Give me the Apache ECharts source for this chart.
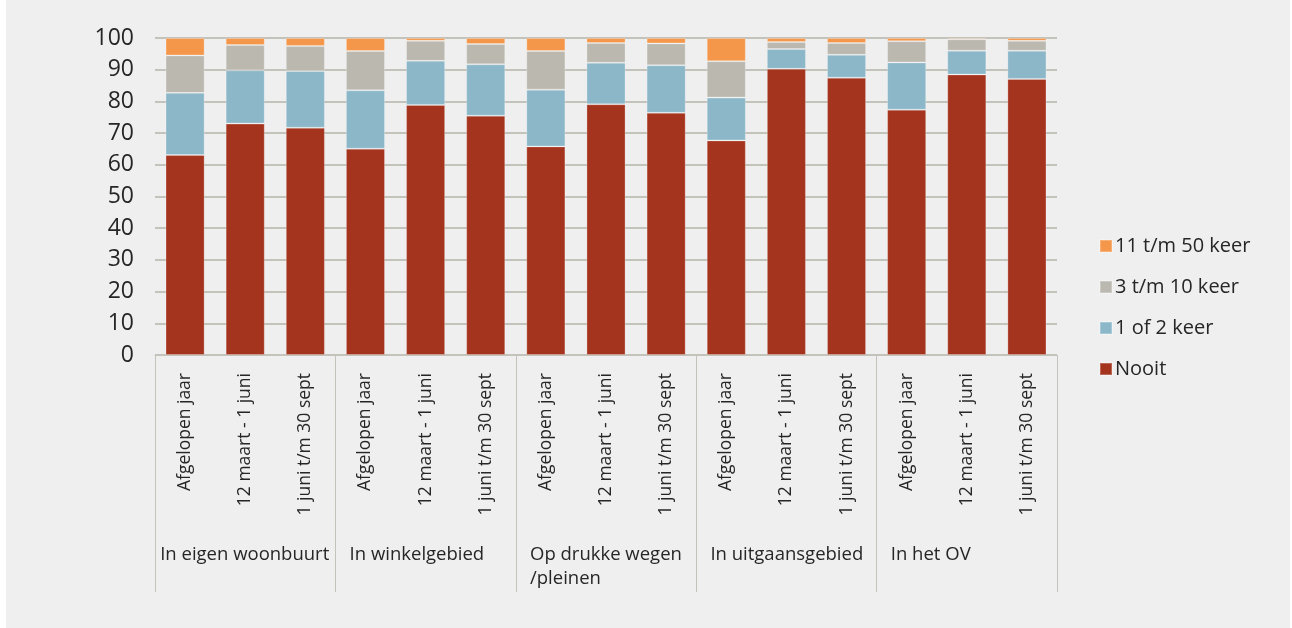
<!DOCTYPE html>
<html>
<head>
<meta charset="utf-8">
<script src="https://cdn.jsdelivr.net/npm/echarts@6/dist/echarts.min.js"></script>
<style>
  html, body { margin: 0; padding: 0; background: #ffffff; }
  #chart { position: absolute; left: 6px; top: 0; width: 1284px; height: 628px; background: #efefef; }
</style>
</head>
<body>
<div id="chart"></div>
<script>
// perioden (binnenste niveau van de x-as)
const periods = ["Afgelopen jaar", "12 maart - 1 juni", "1 juni t/m 30 sept"];
// locaties (buitenste niveau)
const groups = ["In eigen woonbuurt", "In winkelgebied", "Op drukke wegen\n/pleinen", "In uitgaansgebied", "In het OV"];

const categories = [];
groups.forEach(function (g) {
  periods.forEach(function (p) { categories.push(p); });
});

// percentages per balk, van links naar rechts
const nooit    = [63.1, 73.0, 71.7, 65.1, 78.9, 75.5, 65.8, 79.1, 76.4, 67.7, 90.3, 87.5, 77.4, 88.5, 87.1];
const eenTwee  = [19.6, 16.8, 17.9, 18.4, 13.9, 16.2, 17.9, 13.1, 15.0, 13.5,  6.2,  7.2, 14.9,  7.5,  8.9];
const drieTien = [11.8,  8.0,  7.9, 12.4,  6.3,  6.4, 12.2,  6.2,  6.9, 11.5,  2.2,  3.7,  6.7,  3.6,  3.1];
const elfVijftig = [5.5, 2.2, 2.5,  4.1,  0.9,  1.9,  4.1,  1.6,  1.7,  7.3,  1.3,  1.6,  1.0,  0.4,  0.9];

const yTicks = [0, 10, 20, 30, 40, 50, 60, 70, 80, 90, 100];

const font = "'Open Sans', Lato, sans-serif";
const textColor = "#262626";

const chart = echarts.init(document.getElementById("chart"));

function bar(name, data, color) {
  return {
    name: name,
    type: "bar",
    stack: "totaal",
    data: data,
    barCategoryGap: "35%",
    itemStyle: { color: color, borderColor: "rgba(255,255,255,0.25)", borderWidth: 1 }
  };
}

chart.setOption({
  backgroundColor: "#efefef",
  animation: false,
  textStyle: { fontFamily: font },
  grid: { left: 149, right: 233, top: 38, bottom: 273 },
  legend: {
    orient: "vertical",
    left: 1088,
    top: 231,
    itemWidth: 12,
    itemHeight: 12,
    itemGap: 21,
    icon: "rect",
    data: ["11 t/m 50 keer", "3 t/m 10 keer", "1 of 2 keer", "Nooit"],
    textStyle: { fontFamily: font, fontSize: 20, color: textColor, padding: [0, 0, 0, -2] }
  },
  xAxis: [
    {
      type: "category",
      data: categories,
      axisLine: { show: true, lineStyle: { color: "#c4c3bb", width: 1 } },
      axisTick: { show: false },
      axisLabel: {
        interval: 0,
        rotate: 90,
        margin: 18,
        fontFamily: font,
        fontSize: 17.5,
        color: textColor
      }
    },
    {
      type: "category",
      data: groups,
      position: "bottom",
      axisLine: { show: false },
      axisTick: { show: true, interval: 0, length: 237, lineStyle: { color: "#c4c3bb", width: 1 } },
      axisLabel: {
        interval: 0,
        margin: 188,
        fontFamily: font,
        fontSize: 18.5,
        color: textColor,
        lineHeight: 24,
        formatter: function (v, i) {
          return (i === 0 ? "{w|" : "{n|") + v.split("\n").join("}\n" + (i === 0 ? "{w|" : "{n|")) + "}";
        },
        rich: {
          n: { width: 152, align: "left", fontFamily: font, fontSize: 18.5, color: textColor, lineHeight: 24 },
          w: { width: 170, align: "left", fontFamily: font, fontSize: 18.5, color: textColor, lineHeight: 24 }
        }
      }
    }
  ],
  yAxis: {
    type: "value",
    min: yTicks[0],
    max: yTicks[yTicks.length - 1],
    interval: 10,
    axisLine: { show: false },
    axisTick: { show: false },
    splitLine: { lineStyle: { color: "#c4c3bb", width: 2 } },
    axisLabel: { fontFamily: font, fontSize: 23, color: textColor, margin: 21 }
  },
  series: [
    bar("Nooit", nooit, "#a5341e"),
    bar("1 of 2 keer", eenTwee, "#8bb7c8"),
    bar("3 t/m 10 keer", drieTien, "#bbb8b0"),
    bar("11 t/m 50 keer", elfVijftig, "#f4974a")
  ]
});
</script>
</body>
</html>
